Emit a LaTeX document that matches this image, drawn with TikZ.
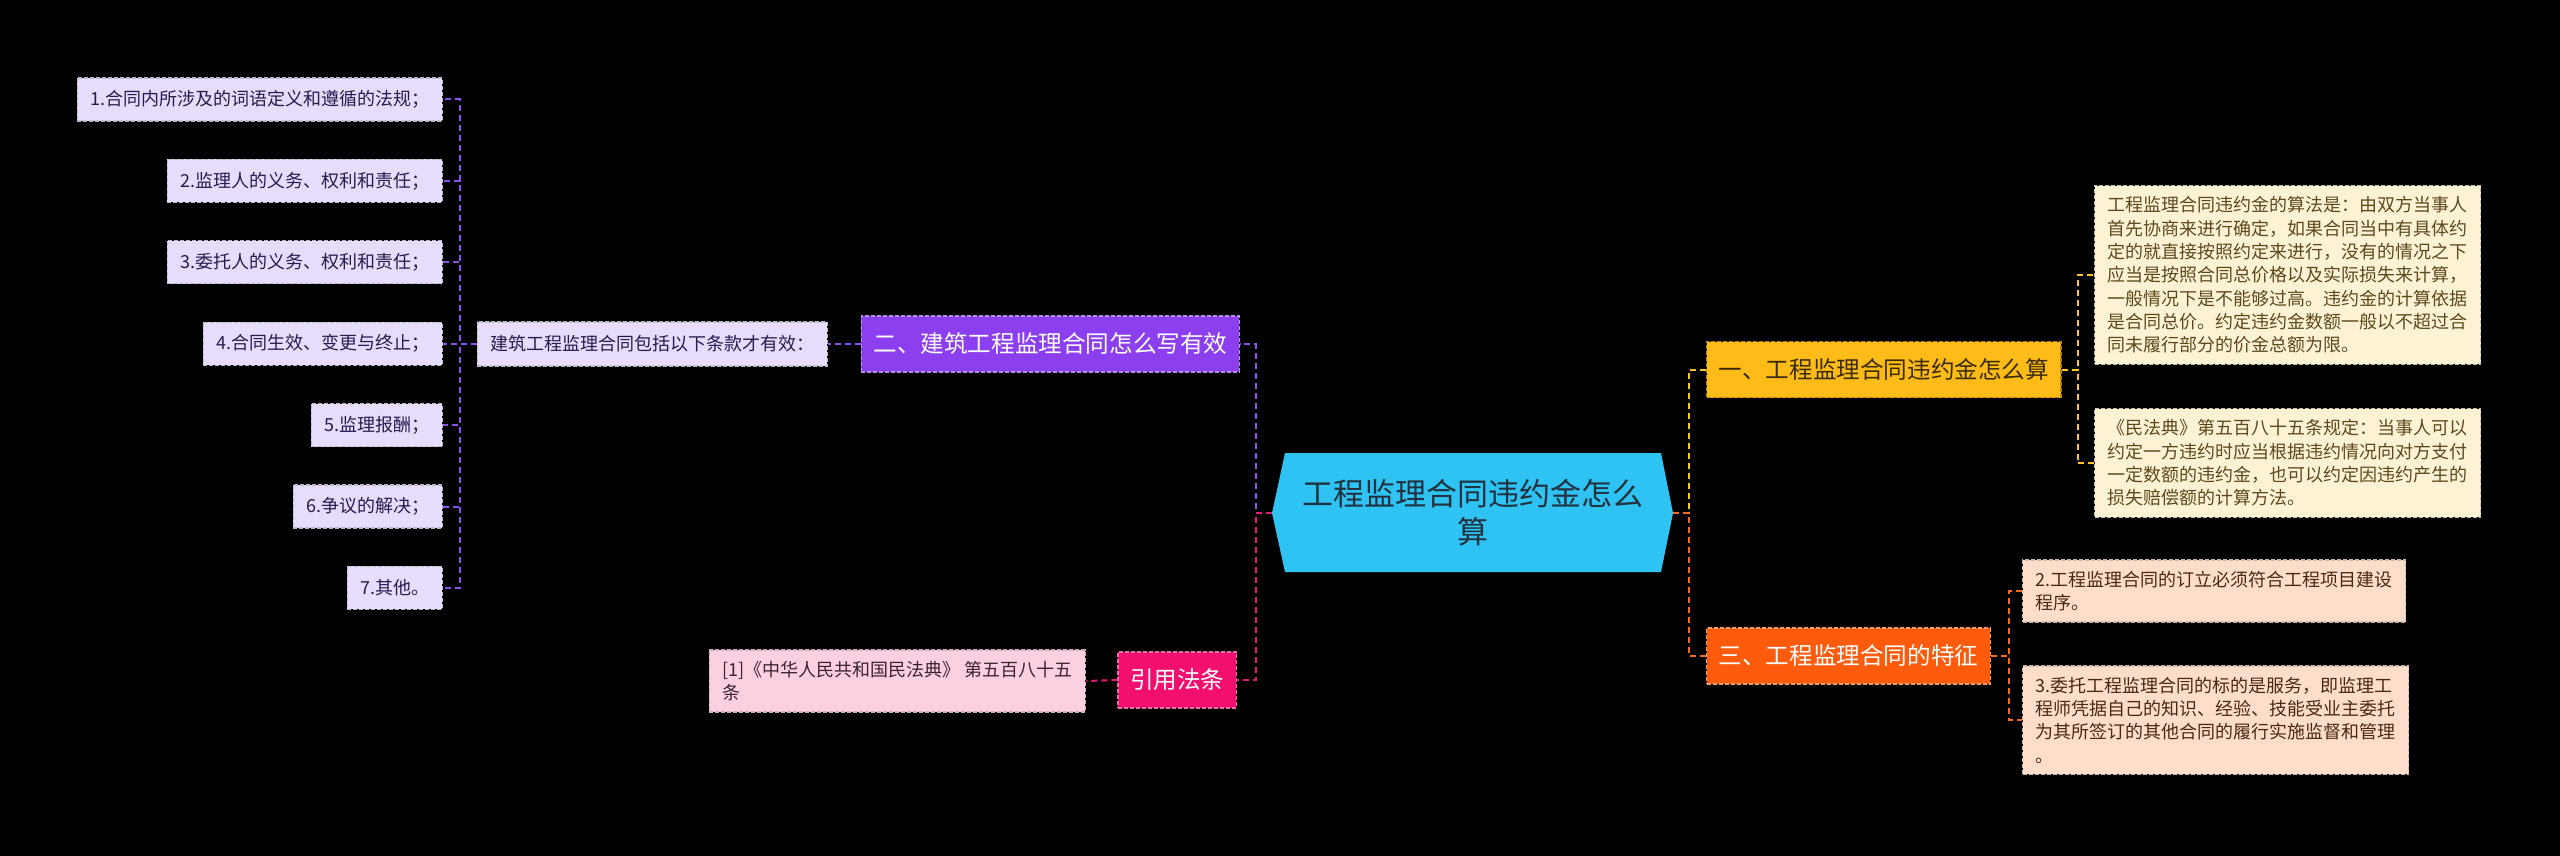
\documentclass[tikz,border=0pt]{standalone}
\usepackage{fontspec}
\setmainfont{Noto Sans CJK SC}

\definecolor{rootfill}{HTML}{2EC3F2}
\definecolor{roottext}{HTML}{22313F}
\definecolor{purplemain}{HTML}{8B3FEF}
\definecolor{purpleline}{HTML}{8A52EA}
\definecolor{lavender}{HTML}{E6DCFB}
\definecolor{lavtext}{HTML}{2A1B4D}
\definecolor{pinkmain}{HTML}{F20F6D}
\definecolor{pinkline}{HTML}{E6197A}
\definecolor{pinkleaf}{HTML}{FDD0E1}
\definecolor{pinktext}{HTML}{3B2232}
\definecolor{yellowmain}{HTML}{FFBB18}
\definecolor{yellowline}{HTML}{FFC425}
\definecolor{yellowtext}{HTML}{3A2C05}
\definecolor{cream}{HTML}{FEF2D4}
\definecolor{creamtext}{HTML}{5C4A1F}
\definecolor{orangemain}{HTML}{FF5B0C}
\definecolor{orangeline}{HTML}{F36A22}
\definecolor{peach}{HTML}{FEDDCB}
\definecolor{peachtext}{HTML}{4A2816}

\begin{document}
\begin{tikzpicture}[x=0.5pt,y=-0.5pt,
  box/.style={dash pattern=on 2pt off 1pt,line width=0.6pt,inner xsep=6.5pt,inner ysep=5.5pt},
  leafbox/.style={box,font=\fontsize{9}{11.65}\selectfont,align=left},
  lavleaf/.style={leafbox,fill=lavender,draw=lavender!60!gray,text=lavtext},
  pinkbox/.style={leafbox,fill=pinkleaf,draw=pinkleaf!60!gray,text=pinktext},
  creamleaf/.style={leafbox,fill=cream,draw=cream!55!gray,text=creamtext},
  peachleaf/.style={leafbox,fill=peach,draw=peach!60!gray,text=peachtext},
  branch/.style={box,inner xsep=6pt,minimum height=28pt,font=\fontsize{11.8}{14}\selectfont},
  link/.style={draw=#1,dash pattern=on 3pt off 2pt,line width=1pt}]

\useasboundingbox (0,0) rectangle (2560,856);
\fill[black] (0,0) rectangle (2560,856);

% centre
\fill[rootfill] (1285,453) -- (1661,453) -- (1673,513) -- (1661,572) -- (1285,572) -- (1272,513) -- cycle;
\node (root) at (1472.5,512.5) [minimum width=200.5pt,minimum height=59.5pt,inner sep=0pt,
  align=center,text=roottext,font=\fontsize{15.5}{19}\selectfont] {工程监理合同违约金怎么\\算};

% left side
\node (b2) at (1240,344) [branch,anchor=east,fill=purplemain,draw=purplemain!60!white,text=white] {二、建筑工程监理合同怎么写有效};
\node (b2a) at (828,344) [lavleaf,anchor=east,minimum height=22pt] {建筑工程监理合同包括以下条款才有效：};
\draw[link=purpleline] (b2.west) -- (b2a.east);

\foreach \t [count=\i] in {1.合同内所涉及的词语定义和遵循的法规；,2.监理人的义务、权利和责任；,
  3.委托人的义务、权利和责任；,4.合同生效、变更与终止；,5.监理报酬；,6.争议的解决；,7.其他。}{
	\node (item\i) at (443,{99.5+(\i-1)*81.4}) [lavleaf,anchor=east,minimum height=21.5pt] {\t};
	\draw[link=purpleline] (b2a.west) -- ++(-17,0) |- (item\i.east);
}

\node (b4) at (1237,680) [branch,anchor=east,fill=pinkmain,draw=pinkmain!60!white,text=white] {引用法条};
\node (cite) at (1086,681) [pinkbox,anchor=east] {[1]《中华人民共和国民法典》 第五百八十五\\条};
\draw[link=pinkline] (b4.west) -- (cite.east);

\draw[link=purpleline] (root.west) -- ++(-16,0) |- (b2.east);
\draw[link=pinkline] (root.west) -- ++(-16,0) |- (b4.east);

% right side
\node (b1) at (1706,369.5) [branch,anchor=west,fill=yellowmain,draw=yellowmain!70!black,text=yellowtext] {一、工程监理合同违约金怎么算};
\node (b1a) at (2094,275) [creamleaf,anchor=west] {工程监理合同违约金的算法是：由双方当事人\\
首先协商来进行确定，如果合同当中有具体约\\
定的就直接按照约定来进行，没有的情况之下\\
应当是按照合同总价格以及实际损失来计算，\\
一般情况下是不能够过高。违约金的计算依据\\
是合同总价。约定违约金数额一般以不超过合\\
同未履行部分的价金总额为限。};
\node (b1b) at (2094,463) [creamleaf,anchor=west] {《民法典》第五百八十五条规定：当事人可以\\
约定一方违约时应当根据违约情况向对方支付\\
一定数额的违约金，也可以约定因违约产生的\\
损失赔偿额的计算方法。};
\draw[link=yellowline] (b1.east) -- ++(16,0) |- (b1a.west);
\draw[link=yellowline] (b1.east) -- ++(16,0) |- (b1b.west);

\node (b3) at (1706,656) [branch,anchor=west,fill=orangemain,draw=orangemain!60!white,text=white] {三、工程监理合同的特征};
\node (b3a) at (2022,591) [peachleaf,anchor=west] {2.工程监理合同的订立必须符合工程项目建设\\程序。};
\node (b3b) at (2022,720) [peachleaf,anchor=west] {3.委托工程监理合同的标的是服务，即监理工\\
程师凭据自己的知识、经验、技能受业主委托\\
为其所签订的其他合同的履行实施监督和管理\\
。};
\draw[link=orangeline] (b3.east) -- ++(18,0) |- (b3a.west);
\draw[link=orangeline] (b3.east) -- ++(18,0) |- (b3b.west);

\draw[link=yellowline] (root.east) -- ++(16,0) |- (b1.west);
\draw[link=orangeline] (root.east) -- ++(16,0) |- (b3.west);

\end{tikzpicture}
\end{document}
